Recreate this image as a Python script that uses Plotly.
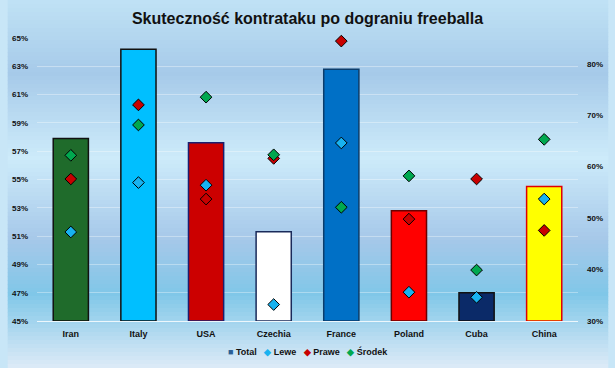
import plotly.graph_objects as go

countries = ["Iran", "Italy", "USA", "Czechia", "France", "Poland", "Cuba", "China"]
total = [57.9, 64.2, 57.6, 51.3, 62.8, 52.8, 47.0, 54.5]
lewe = [47.3, 56.9, 56.4, 33.2, 64.6, 35.6, 34.6, 53.7]
prawe = [57.6, 72.0, 53.7, 61.6, 84.4, 49.8, 57.6, 47.6]
srodek = [62.2, 68.1, 73.5, 62.3, 52.1, 58.2, 39.9, 65.3]
left_ticks = list(range(45, 66, 2))
right_ticks = list(range(30, 81, 10))
series_names = ["Total", "Lewe", "Prawe", "Środek"]

bar_colors = ["#1f6b2b", "#00bfff", "#cc0000", "#ffffff", "#0070c6", "#ff0000", "#0b2a68", "#ffff00"]
bar_lines = ["#111111", "#111111", "#1a1f70", "#1a2a5a", "#0c3d6b", "#6a0000", "#111111", "#e00000"]
marker_colors = {"Total": "#2a5f95", "Lewe": "#18b2f0", "Prawe": "#c80000", "Środek": "#00a84f"}

FONT = "Liberation Sans Narrow, Arial Narrow, Liberation Sans, Arial"

fig = go.Figure()
fig.add_trace(go.Bar(
    x=countries, y=[t - 45 for t in total], base=45, name="Total",
    marker=dict(color=bar_colors, line=dict(color=bar_lines, width=1.5)),
    width=0.52, showlegend=False, yaxis="y",
    hovertemplate="%{x}: %{customdata}%<extra>Total</extra>", customdata=total,
))
for name, vals in [("Lewe", lewe), ("Prawe", prawe), ("Środek", srodek)]:
    fig.add_trace(go.Scatter(
        x=countries, y=vals, name=name, mode="markers", yaxis="y2", showlegend=False,
        cliponaxis=False,
        marker=dict(symbol="diamond", size=9, color=marker_colors[name], line=dict(color="#000000", width=1)),
    ))

# compact legend as text
sym = {"Total": "■", "Lewe": "◆", "Prawe": "◆", "Środek": "◆"}
legend_text = "\u00a0\u00a0\u00a0".join(
    "<span style='color:%s'>%s</span>\u00a0%s" % (marker_colors[n], sym[n], n) for n in series_names
)

# background gradient bands (pixel rows of the 615x368 canvas)
W, H = 615, 368
L, R, T, B = 30, 31, 38, 47
pw, ph = W - L - R, H - T - B
stops = [(0.0, (192, 226, 245)), (0.2, (166, 202, 233)), (0.43, (205, 235, 250)),
         (0.65, (166, 200, 233)), (0.8, (128, 199, 232)), (1.0, (222, 235, 247))]

def col_at(f):
    for (f0, c0), (f1, c1) in zip(stops[:-1], stops[1:]):
        if f0 <= f <= f1:
            t = (f - f0) / (f1 - f0)
            return "rgb(%d,%d,%d)" % tuple(round(a + (b - a) * t) for a, b in zip(c0, c1))
    return "rgb(%d,%d,%d)" % stops[-1][1]

shapes = []
n = 92
for i in range(n):
    p0 = H * i / n
    p1 = H * (i + 1) / n + 0.6
    shapes.append(dict(
        type="rect", xref="paper", yref="paper", layer="below",
        x0=-L / pw, x1=(W - L) / pw,
        y0=(H - B - p1) / ph, y1=(H - B - p0) / ph,
        fillcolor=col_at((i + 0.5) / n), line=dict(width=0),
    ))

fig.update_layout(
    width=W, height=H,
    margin=dict(l=L, r=R, t=T, b=B, pad=0),
    paper_bgcolor="#c8e6f7", plot_bgcolor="rgba(0,0,0,0)",
    shapes=shapes,
    showlegend=False,
    annotations=[dict(text=legend_text, xref="paper", yref="paper", x=0.5, y=-31 / ph,
                      xanchor="center", yanchor="middle", showarrow=False,
                      font=dict(size=9, family=FONT, weight="bold", color="#111111"))],
    title=dict(text="<b>Skuteczność kontrataku po dograniu freeballa</b>",
               x=0.5, xref="container", xanchor="center", y=1 - 18 / H, yref="container", yanchor="middle",
               font=dict(family=FONT, size=16, color="#111111")),
    font=dict(family=FONT, size=9, color="#111111", weight="bold"),
    xaxis=dict(showgrid=False, showline=True, linecolor="rgba(255,255,255,0.8)", linewidth=1,
               ticks="", tickfont=dict(size=9, family=FONT, weight="bold"), ticklabelstandoff=4),
    yaxis=dict(range=[45, 65], tickvals=left_ticks, ticktext=["%d%%" % v for v in left_ticks],
               showgrid=True, gridcolor="rgba(255,255,255,0.35)", gridwidth=1, zeroline=False,
               ticks="", tickfont=dict(size=8, family=FONT, weight="bold"), ticklabelstandoff=8),
    yaxis2=dict(range=[30, 85], overlaying="y", side="right", tickvals=right_ticks,
                ticktext=["%d%%" % v for v in right_ticks], showgrid=False, zeroline=False,
                ticks="", tickfont=dict(size=8, family=FONT, weight="bold"), ticklabelstandoff=8),
    bargap=0.48,
)
fig.write_html("out.html", config={"displayModeBar": False},
               post_script="document.body.style.margin='0';document.body.style.padding='0';document.body.style.overflow='hidden';")
